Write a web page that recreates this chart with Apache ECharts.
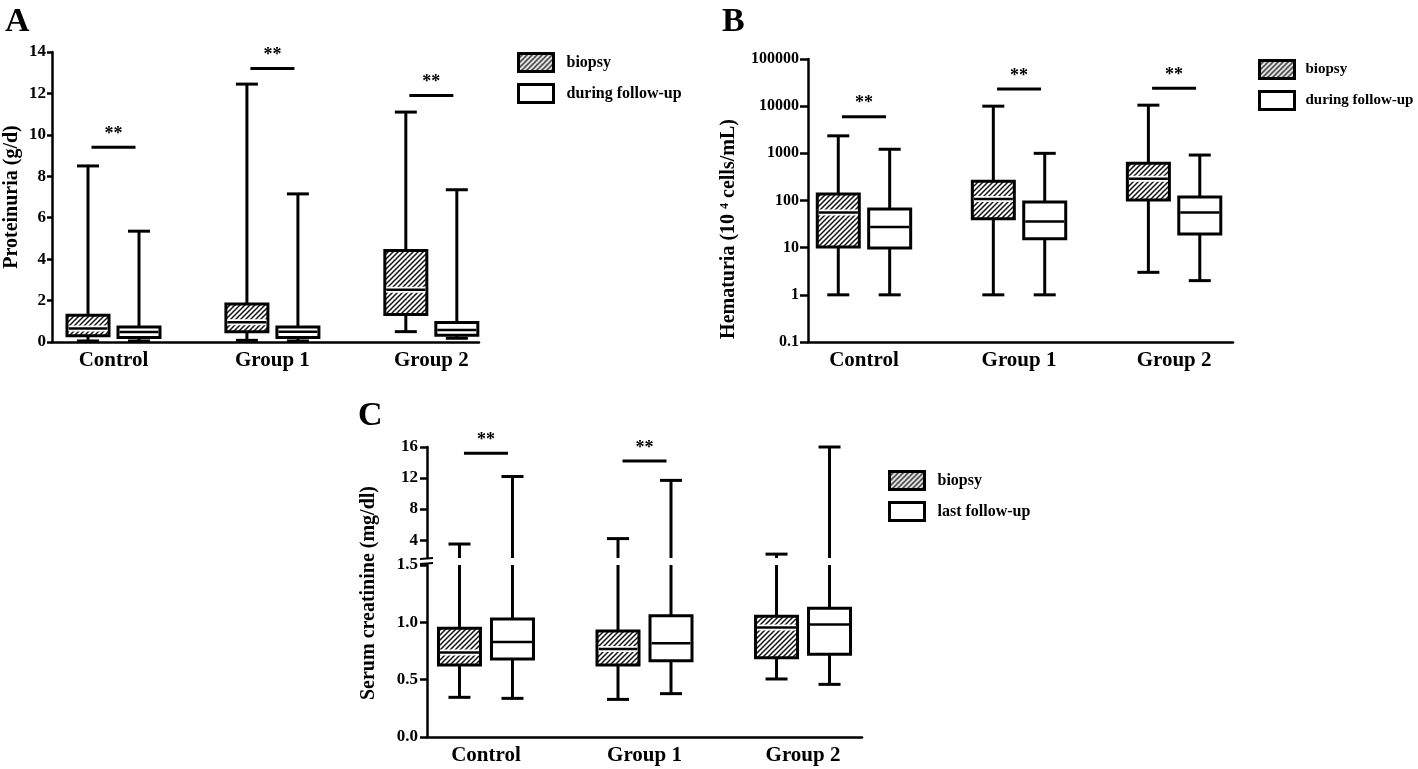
<!DOCTYPE html>
<html><head><meta charset="utf-8">
<script src="https://cdn.jsdelivr.net/npm/echarts/dist/echarts.min.js"></script>
<style>html,body{margin:0;padding:0;background:#fff}#c{width:1418px;height:769px}</style>
</head><body><div id="c"></div>
<script>
// ---------- data ----------
const categories = ['Control', 'Group 1', 'Group 2'];
// each box: [min, q1, median, q3, max]
const protBiopsy = [[0.05, 0.3, 0.65, 1.29, 8.5], [0.08, 0.5, 0.95, 1.84, 12.45], [0.5, 1.33, 2.52, 4.42, 11.1]];
const protFollow = [[0.05, 0.22, 0.48, 0.73, 5.35], [0.05, 0.22, 0.5, 0.73, 7.15], [0.18, 0.33, 0.58, 0.94, 7.35]];
const protSig = [9.4, 13.2, 11.9];
const hemBiopsy = [[1, 10.3, 56, 138, 2350], [1, 41, 107, 257, 10000], [3, 102, 290, 620, 10500]];
const hemFollow = [[1, 9.8, 27.5, 66, 1220], [1, 15.5, 36, 93, 1000], [2, 19.5, 56, 118, 920]];
const hemSig = [6000, 23000, 24000];
const creBiopsy = [[0.346, 0.628, 0.738, 0.948, 3.5], [0.328, 0.628, 0.767, 0.924, 4.2], [0.506, 0.692, 0.956, 1.052, 2.2]];
const creFollow = [[0.337, 0.68, 0.828, 1.03, 12.2], [0.378, 0.665, 0.817, 1.058, 11.7], [0.459, 0.721, 0.982, 1.122, 16]];
const creSig = [15.2, 14.2, null];
const creUpperTicks = [4, 8, 12, 16];
const creLowerMax = 1.5;
const creUpperMin = 1.7;

// ---------- style helpers ----------
const FONT = '"Liberation Serif","Times New Roman",serif';
function makeHatch() {
  const s = 5;
  const c = document.createElement('canvas'); c.width = s; c.height = s;
  const g = c.getContext('2d');
  g.fillStyle = '#fff'; g.fillRect(0, 0, s, s);
  g.strokeStyle = '#111'; g.lineWidth = 1.5;
  g.beginPath();
  g.moveTo(-1, s + 1); g.lineTo(s + 1, -1);
  g.moveTo(-1, 1); g.lineTo(1, -1);
  g.moveTo(s - 1, s + 1); g.lineTo(s + 1, s - 1);
  g.stroke();
  return c;
}
const hatch = { image: makeHatch(), repeat: 'repeat' };
const LW = 3, HW = 21, CW = 11;

function toItems(arr) { return arr.map((b, i) => [i].concat(b)); }

function boxRender(side, fill, part, offset) {
  return function (params, api) {
    const cat = api.value(0);
    const mn = api.value(1), q1 = api.value(2), md = api.value(3), q3 = api.value(4), mx = api.value(5);
    const Y = v => api.coord([cat, v])[1];
    const cx = api.coord([cat, md])[0] + side * offset;
    const ln = (x1, y1, x2, y2, w, c) => ({ type: 'line', shape: { x1, y1, x2, y2 }, style: { stroke: c || '#000', lineWidth: w || LW } });
    const ch = [];
    if (part === 'upper') {
      if (mx > creUpperMin) {
        ch.push(ln(cx, Y(creUpperMin), cx, Y(mx)));
        ch.push(ln(cx - CW, Y(mx), cx + CW, Y(mx)));
      }
      return { type: 'group', children: ch };
    }
    let top = mx, capTop = true;
    if (part === 'lower' && mx > creLowerMax) { top = creLowerMax; capTop = false; }
    ch.push(ln(cx, Y(q3), cx, Y(top)));
    if (capTop) ch.push(ln(cx - CW, Y(mx), cx + CW, Y(mx)));
    ch.push(ln(cx, Y(q1), cx, Y(mn)));
    ch.push(ln(cx - CW, Y(mn), cx + CW, Y(mn)));
    ch.push({ type: 'rect', shape: { x: cx - HW, y: Y(q3), width: 2 * HW, height: Y(q1) - Y(q3) }, style: { fill: fill, stroke: '#000', lineWidth: LW } });
    if (side < 0) ch.push(ln(cx - HW + 1.5, Y(md), cx + HW - 1.5, Y(md), 6, '#fff'));
    ch.push(ln(cx - HW + 1.5, Y(md), cx + HW - 1.5, Y(md), 2.5));
    return { type: 'group', children: ch };
  };
}
function sigRender(params, api) {
  const p = api.coord([api.value(0), api.value(1)]);
  return { type: 'group', children: [
    { type: 'line', shape: { x1: p[0] - 22, y1: p[1], x2: p[0] + 22, y2: p[1] }, style: { stroke: '#000', lineWidth: LW } },
    { type: 'text', x: p[0], y: p[1] - 4, style: { text: '**', font: 'bold 18px ' + FONT, fill: '#000', textAlign: 'center', textVerticalAlign: 'bottom' } }
  ] };
}
function sigItems(arr) { return arr.map((v, i) => [i, v]).filter(d => d[1] != null); }

function xAx(grid, min, max, show) {
  return {
    type: 'value', gridIndex: grid, min: min, max: max, show: show !== false,
    axisLine: { onZero: false, lineStyle: { color: '#000', width: 2.5 } },
    axisTick: { show: false }, splitLine: { show: false },
    axisLabel: { customValues: [0, 1, 2], formatter: v => categories[Math.round(v)], margin: 8,
      color: '#000', fontFamily: FONT, fontWeight: 'bold', fontSize: 21 }
  };
}
function yAx(grid, extra, tickLen, margin, fs) {
  return Object.assign({
    type: 'value', gridIndex: grid,
    axisLine: { show: true, onZero: false, lineStyle: { color: '#000', width: 2.5 } },
    axisTick: { show: true, length: tickLen, lineStyle: { color: '#000', width: 2.5 } },
    splitLine: { show: false },
    axisLabel: { margin: margin, color: '#000', fontFamily: FONT, fontWeight: 'bold', fontSize: fs }
  }, extra);
}
function legendAt(left, top, names, fs, pad) {
  return {
    orient: 'vertical', left: left, top: top, padding: 0, itemWidth: 35, itemHeight: 18, itemGap: 10, icon: 'rect',
    selectedMode: false,
    data: [
      { name: names[0], itemStyle: { color: hatch, borderColor: '#000', borderWidth: 3 } },
      { name: names[1], itemStyle: { color: '#fff', borderColor: '#000', borderWidth: 3 } }
    ],
    textStyle: { fontFamily: FONT, fontWeight: 'bold', fontSize: fs, color: '#000', padding: [0, 0, 0, pad] }
  };
}

const yA = yAx(0, { min: 0, max: 14, interval: 2 }, 5, 6, 17);
const yB = yAx(1, { type: 'log', logBase: 10, min: 0.1, max: 100000, splitNumber: 6 }, 8, 9, 16);
yB.axisLabel.formatter = v => (v < 1 ? v.toFixed(1) : String(Math.round(v)));
const yCl = yAx(2, { min: 0, max: creLowerMax, interval: 0.5 }, 7, 9, 17);
yCl.axisLabel.formatter = v => v.toFixed(1);
const yCu = yAx(3, { min: creUpperMin, max: 16 }, 7, 9, 17);
yCu.axisTick.customValues = creUpperTicks;
yCu.axisLabel.customValues = creUpperTicks;

const F = 'bold 20px ' + FONT;
const option = {
  backgroundColor: '#fff',
  animation: false,
  grid: [
    { left: 52, top: 52, width: 427, height: 290 },
    { left: 808, top: 59, width: 425, height: 283 },
    { left: 427, top: 565, width: 435, height: 172 },
    { left: 427, top: 447, width: 435, height: 111 }
  ],
  xAxis: [xAx(0, -0.387, 2.3), xAx(1, -0.361, 2.38), xAx(2, -0.372, 2.372), xAx(3, -0.372, 2.372, false)],
  yAxis: [yA, yB, yCl, yCu],
  legend: [
    legendAt(517, 52, ['biopsy', 'during follow-up'], 16, 8),
    legendAt(1258, 59, ['biopsy', 'during follow-up'], 15, 6),
    legendAt(888, 470, ['biopsy', 'last follow-up'], 16, 8)
  ],
  series: [
    { type: 'custom', name: 'biopsy', xAxisIndex: 0, yAxisIndex: 0, itemStyle: { color: hatch, borderColor: '#000' }, renderItem: boxRender(-1, hatch, 'full', 25.5), data: toItems(protBiopsy) },
    { type: 'custom', name: 'during follow-up', xAxisIndex: 0, yAxisIndex: 0, itemStyle: { color: '#fff', borderColor: '#000' }, renderItem: boxRender(1, '#fff', 'full', 25.5), data: toItems(protFollow) },
    { type: 'custom', name: 'sigA', xAxisIndex: 0, yAxisIndex: 0, renderItem: sigRender, data: sigItems(protSig) },
    { type: 'custom', name: 'biopsy', xAxisIndex: 1, yAxisIndex: 1, itemStyle: { color: hatch, borderColor: '#000' }, renderItem: boxRender(-1, hatch, 'full', 25.7), data: toItems(hemBiopsy) },
    { type: 'custom', name: 'during follow-up', xAxisIndex: 1, yAxisIndex: 1, itemStyle: { color: '#fff', borderColor: '#000' }, renderItem: boxRender(1, '#fff', 'full', 25.7), data: toItems(hemFollow) },
    { type: 'custom', name: 'sigB', xAxisIndex: 1, yAxisIndex: 1, renderItem: sigRender, data: sigItems(hemSig) },
    { type: 'custom', name: 'biopsy', xAxisIndex: 2, yAxisIndex: 2, itemStyle: { color: hatch, borderColor: '#000' }, renderItem: boxRender(-1, hatch, 'lower', 26.5), data: toItems(creBiopsy) },
    { type: 'custom', name: 'last follow-up', xAxisIndex: 2, yAxisIndex: 2, itemStyle: { color: '#fff', borderColor: '#000' }, renderItem: boxRender(1, '#fff', 'lower', 26.5), data: toItems(creFollow) },
    { type: 'custom', name: 'biopsy', xAxisIndex: 3, yAxisIndex: 3, renderItem: boxRender(-1, hatch, 'upper', 26.5), data: toItems(creBiopsy) },
    { type: 'custom', name: 'last follow-up', xAxisIndex: 3, yAxisIndex: 3, renderItem: boxRender(1, '#fff', 'upper', 26.5), data: toItems(creFollow) },
    { type: 'custom', name: 'sigC', xAxisIndex: 3, yAxisIndex: 3, renderItem: sigRender, data: sigItems(creSig) }
  ],
  graphic: [
    { type: 'text', left: 5, top: 5, style: { text: 'A', font: 'bold 34px ' + FONT, fill: '#000' } },
    { type: 'text', left: 722, top: 5, style: { text: 'B', font: 'bold 34px ' + FONT, fill: '#000' } },
    { type: 'text', left: 358, top: 399, style: { text: 'C', font: 'bold 34px ' + FONT, fill: '#000' } },
    { type: 'text', x: 12, y: 197, rotation: Math.PI / 2, style: { text: 'Proteinuria (g/d)', font: F, fill: '#000', textAlign: 'center', textVerticalAlign: 'middle' } },
    { type: 'text', x: 729, y: 229, rotation: Math.PI / 2, style: { text: 'Hematuria (10 {sup|4} cells/mL)', font: F, fill: '#000', textAlign: 'center', textVerticalAlign: 'middle',
        rich: { sup: { fontSize: 12, fontWeight: 'bold', fontFamily: FONT, verticalAlign: 'top', fill: '#000' } } } },
    { type: 'text', x: 369, y: 593, rotation: Math.PI / 2, style: { text: 'Serum creatinine (mg/dl)', font: F, fill: '#000', textAlign: 'center', textVerticalAlign: 'middle' } },
    { type: 'line', shape: { x1: 420, y1: 559, x2: 433, y2: 558 }, style: { stroke: '#000', lineWidth: 2 } },
    { type: 'line', shape: { x1: 420, y1: 564, x2: 433, y2: 563 }, style: { stroke: '#000', lineWidth: 2 } }
  ]
};
const chart = echarts.init(document.getElementById('c'), null, { renderer: 'canvas' });
chart.setOption(option);
</script>
</body></html>
